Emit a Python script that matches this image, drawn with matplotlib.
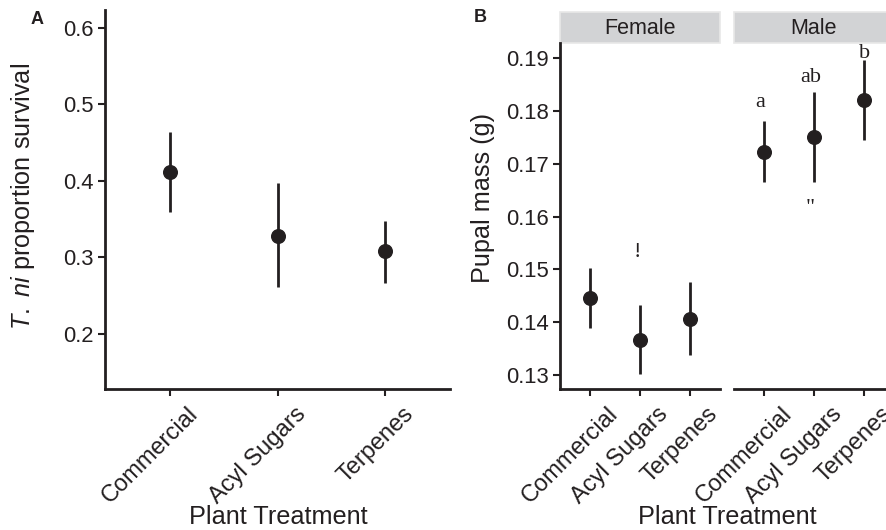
import matplotlib
matplotlib.use("Agg")
import matplotlib.pyplot as plt
import matplotlib.transforms as mtransforms
from matplotlib.patches import Rectangle

plt.rcParams['font.family'] = ['Liberation Sans', 'DejaVu Sans']
plt.rcParams['mathtext.fontset'] = 'custom'
plt.rcParams['mathtext.it'] = 'Liberation Sans:italic'
plt.rcParams['mathtext.rm'] = 'Liberation Sans'

# ---- data ----
treatments = ["Commercial", "Acyl Sugars", "Terpenes"]

surv_mean = [0.411, 0.328, 0.308]
surv_low = [0.359, 0.261, 0.267]
surv_high = [0.464, 0.397, 0.348]

female_mean = [0.1446, 0.1367, 0.1407]
female_low = [0.1389, 0.1302, 0.1338]
female_high = [0.1503, 0.1432, 0.1476]

male_mean = [0.1723, 0.1751, 0.1821]
male_low = [0.1665, 0.1666, 0.1746]
male_high = [0.1781, 0.1836, 0.1897]

male_letters = ["a", "ab", "b"]
male_letter_x = [0.93, 1.94, 3.02]
male_letter_y = [0.1817, 0.18635, 0.1909]
female_marks = ["!"]
female_mark_x = [1.94]
female_mark_y = [0.1533]
male_marks = ['"']
male_mark_x = [1.93]
male_mark_y = [0.1615]

surv_ticks = [0.2, 0.3, 0.4, 0.5, 0.6]
mass_ticks = [0.13, 0.14, 0.15, 0.16, 0.17, 0.18, 0.19]

# ---- style ----
INK = '#231f20'
W, H = 886, 530
fig = plt.figure(figsize=(W / 100, H / 100), dpi=100)


def fx(px):
    return px / W


def fy(py):
    return 1 - py / H


YTICK_FS = 15.8
XTICK_FS = 17
TITLE_FS = 18.2


def style_axes(ax, left=True):
    for s in ['top', 'right']:
        ax.spines[s].set_visible(False)
    ax.spines['bottom'].set_linewidth(2)
    ax.spines['bottom'].set_color(INK)
    if left:
        ax.spines['left'].set_linewidth(2)
        ax.spines['left'].set_color(INK)
    else:
        ax.spines['left'].set_visible(False)
    ax.tick_params(axis='both', colors=INK, width=1.5, length=5, pad=3)
    ax.tick_params(axis='y', labelsize=YTICK_FS, labelcolor=INK)
    ax.set_facecolor('none')


def draw_points(ax, mean, low, high):
    x = list(range(1, len(mean) + 1))
    ax.vlines(x, low, high, color=INK, linewidth=2, zorder=2)
    ax.plot(x, mean, 'o', color=INK, markersize=9.8, zorder=3)


def set_xlabels(ax, dx=17, dy=-3):
    ax.set_xticks(range(1, len(treatments) + 1))
    ax.set_xticklabels(treatments, rotation=45, ha='right', va='top',
                       rotation_mode='anchor', fontsize=XTICK_FS, color=INK)
    off = mtransforms.ScaledTranslation(dx / 100, dy / 100, fig.dpi_scale_trans)
    for lab in ax.get_xticklabels():
        lab.set_transform(lab.get_transform() + off)


# ---- Panel A ----
axA = fig.add_axes([fx(105), fy(389), fx(450 - 105), fy(10) - fy(389)])
draw_points(axA, surv_mean, surv_low, surv_high)
axA.set_xlim(0.4, 3.6)
axA.set_ylim(0.128, 0.623)
axA.set_yticks(surv_ticks)
axA.set_yticklabels([f"{v:.1f}" for v in surv_ticks])
style_axes(axA)
set_xlabels(axA)
fig.text(fx(23), fy(196), r"$\mathit{T.\ ni}$ proportion survival", rotation=90,
         fontsize=TITLE_FS, color=INK, ha='center', va='center')
fig.text(fx(37), fy(20), "A", fontsize=13, fontweight='bold', color=INK, ha='center', va='center')
fig.text(fx(278), fy(517), "Plant Treatment", fontsize=TITLE_FS, color=INK, ha='center', va='center')

# ---- Panel B ----
panel_w = 160
axF = fig.add_axes([fx(560), fy(389), fx(panel_w), fy(43.3) - fy(389)])
axM = fig.add_axes([fx(733.7), fy(389), fx(panel_w), fy(43.3) - fy(389)])
for ax, mean, low, high, left in [(axF, female_mean, female_low, female_high, True),
                                  (axM, male_mean, male_low, male_high, False)]:
    draw_points(ax, mean, low, high)
    ax.set_xlim(0.4, 3.6)
    ax.set_ylim(0.12735, 0.19284)
    ax.set_yticks(mass_ticks)
    style_axes(ax, left=left)
    set_xlabels(ax)
axF.set_yticklabels([f"{v:.2f}" for v in mass_ticks])
axM.tick_params(axis='y', left=False, labelleft=False)
fig.text(fx(483), fy(198), "Pupal mass (g)", rotation=90, fontsize=TITLE_FS, color=INK,
         ha='center', va='center')

# letters
for t, xs, yv in zip(male_letters, male_letter_x, male_letter_y):
    axM.text(xs, yv, t, fontsize=16, family='Liberation Serif', color=INK, ha='center', va='center')
for t, xs, yv in zip(female_marks, female_mark_x, female_mark_y):
    axF.text(xs, yv, t, fontsize=16, family='Liberation Serif', color=INK, ha='center', va='center')
for t, xs, yv in zip(male_marks, male_mark_x, male_mark_y):
    axM.text(xs, yv, t, fontsize=16, family='Liberation Serif', color=INK, ha='center', va='center')

# strips
for ax, label in [(axF, "Female"), (axM, "Male")]:
    ax.add_patch(Rectangle((0, 1.0), 1, 31.6 / (389 - 43.3), transform=ax.transAxes,
                           facecolor='#d2d3d5', edgecolor='#e8e8e8', linewidth=1.2,
                           clip_on=False, zorder=1))
    ax.text(0.5, 1.0 + 9.5 / (389 - 43.3), label, transform=ax.transAxes, fontsize=15.5,
            color=INK, ha='center', va='baseline')

fig.text(fx(480), fy(18), "B", fontsize=13, fontweight='bold', color=INK, ha='center', va='center')
fig.text(fx(727), fy(517), "Plant Treatment", fontsize=TITLE_FS, color=INK, ha='center', va='center')

fig.savefig("out.png", dpi=100)
